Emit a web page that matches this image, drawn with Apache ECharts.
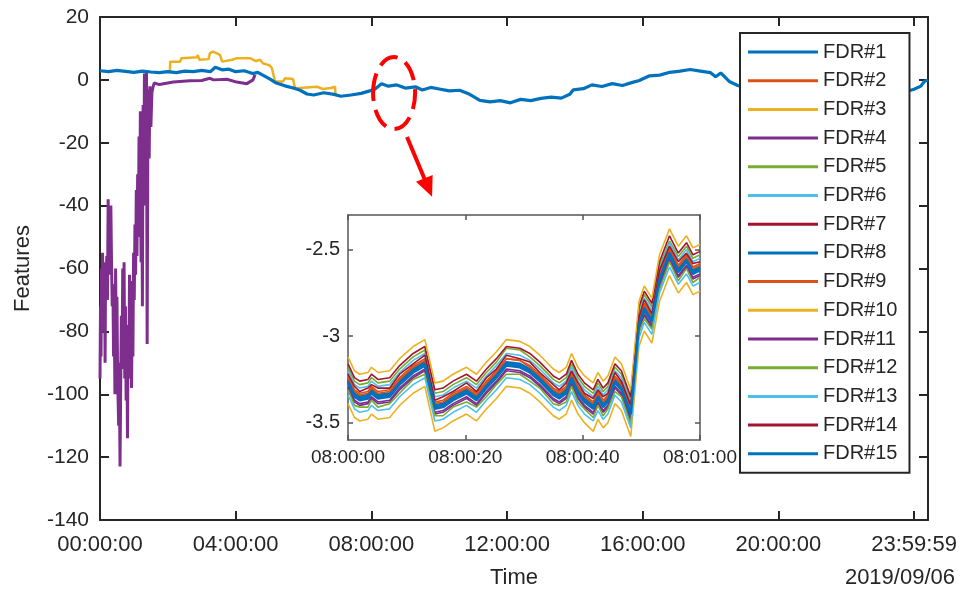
<!DOCTYPE html>
<html>
<head>
<meta charset="utf-8">
<script src="https://cdn.jsdelivr.net/npm/echarts@6/dist/echarts.min.js"></script>
<style>
html, body { margin: 0; padding: 0; background: #fff; }
#main { width: 960px; height: 592px; }
</style>
</head>
<body>
<div id="main"></div>
<script>
// series names and matlab default palette
var names = ['FDR#1', 'FDR#2', 'FDR#3', 'FDR#4', 'FDR#5', 'FDR#6', 'FDR#7', 'FDR#8',
  'FDR#9', 'FDR#10', 'FDR#11', 'FDR#12', 'FDR#13', 'FDR#14', 'FDR#15'];
var colors = ['#0072BD', '#D95319', '#EDB120', '#7E2F8E', '#77AC30', '#4DBEEE', '#A2142F'];

// whole day, x in hours since 00:00:00
var dayTicks = [0, 4, 8, 12, 16, 20, 24];
var fdr1Day = [[0, 2.9], [0.25, 2.6], [0.5, 3.0], [0.75, 2.7], [1.0, 2.4], [1.25, 2.8], [1.5, 2.5], [1.75, 2.3],
  [2.0, 2.6], [2.25, 2.3], [2.5, 2.8], [2.75, 2.6], [3.0, 3.0], [3.25, 2.6], [3.4, 4.0], [3.6, 3.2], [3.8, 3.4],
  [4.0, 2.6], [4.25, 2.9], [4.5, 2.0], [4.65, 2.4], [4.8, 1.5], [5.0, 0.3], [5.2, -1.0], [5.45, -1.9], [5.7, -2.6],
  [5.9, -3.3], [6.1, -4.5], [6.3, -4.8], [6.6, -4.1], [6.9, -4.6], [7.1, -5.2], [7.4, -4.8], [7.7, -4.3],
  [7.95, -3.5], [8.1, -3.0], [8.3, -1.2], [8.5, -2.0], [8.75, -1.6], [9.0, -2.6], [9.3, -2.2], [9.5, -3.2],
  [9.75, -2.4], [10.0, -2.9], [10.3, -3.5], [10.6, -3.3], [10.9, -4.6], [11.2, -6.5], [11.5, -7.0], [11.8, -6.6],
  [12.1, -7.3], [12.4, -6.2], [12.7, -6.6], [13.0, -5.9], [13.3, -5.5], [13.6, -5.8], [13.85, -4.6], [13.95, -3.2],
  [14.25, -2.8], [14.5, -1.6], [14.8, -2.1], [15.1, -1.2], [15.4, -1.8], [15.7, -0.8], [15.9, -0.2], [16.2, 1.3],
  [16.5, 1.5], [16.8, 2.4], [17.1, 2.8], [17.4, 3.3], [17.7, 2.8], [18.0, 2.3], [18.15, 1.0], [18.3, 2.2],
  [18.55, -0.5], [18.8, -1.8], [19.2, -2.8], [19.7, -3.5], [20.3, -4.2], [20.9, -3.8], [21.5, -4.5], [22.1, -3.9],
  [22.7, -4.3], [23.3, -3.6], [23.9, -3.3], [24.0, -3.0], [24.2, -2.0], [24.3, -0.5], [24.41, 0]];
var fdr3Day = [[2.06, 2.5], [2.07, 5.8], [2.36, 5.8], [2.4, 6.9], [2.86, 7.2], [2.88, 7.9], [2.93, 6.4], [3.2, 6.6],
  [3.24, 8.5], [3.33, 9.0], [3.45, 8.4], [3.54, 7.9], [3.6, 5.8], [3.9, 6.4], [4.04, 6.9], [4.42, 6.9], [4.6, 6.0],
  [4.72, 6.4], [4.8, 5.3], [5.0, 4.6], [5.07, 3.7], [5.16, -0.5], [5.4, -0.5], [5.45, 0.5], [5.69, 0.3], [5.75, -2.7],
  [6.1, -2.4], [6.4, -2.2], [6.57, -2.9], [6.8, -2.6], [6.93, -2.2], [6.94, -4.4]];
var fdr4Day = [[0, -95], [0.015, -72], [0.03, -88], [0.045, -60], [0.06, -80], [0.075, -55], [0.09, -66],
  [0.105, -58], [0.12, -78], [0.135, -62], [0.15, -90], [0.165, -60], [0.18, -64], [0.2, -56], [0.22, -70],
  [0.24, -38], [0.26, -55], [0.28, -42], [0.3, -62], [0.32, -40], [0.34, -58], [0.36, -72], [0.38, -65],
  [0.4, -88], [0.42, -75], [0.44, -100], [0.46, -60], [0.48, -84], [0.5, -69], [0.52, -95], [0.55, -110],
  [0.57, -90], [0.59, -123], [0.61, -98], [0.63, -75], [0.65, -92], [0.67, -60], [0.69, -80], [0.71, -58],
  [0.73, -95], [0.75, -72], [0.77, -102], [0.79, -80], [0.81, -114], [0.83, -78], [0.85, -95], [0.87, -62],
  [0.89, -85], [0.91, -64], [0.93, -98], [0.95, -72], [0.97, -88], [0.99, -55], [1.01, -70], [1.03, -46],
  [1.05, -62], [1.07, -35], [1.09, -56], [1.11, -30], [1.13, -50], [1.15, -18], [1.17, -45], [1.19, -10],
  [1.21, -58], [1.23, -25], [1.25, -72], [1.27, -8], [1.29, -40], [1.31, 2], [1.33, -30], [1.35, -5], [1.37, 3],
  [1.39, -84], [1.41, -20], [1.43, -3], [1.45, -25], [1.47, -2], [1.5, -15], [1.53, -4], [1.57, -2],
  [1.6, -1.0], [1.75, -1.5], [2.16, -0.7], [2.65, -0.3], [3.0, -0.2], [3.24, 0.5], [3.35, 0.0], [3.74, 0.2],
  [4.03, -0.7], [4.33, -1.2], [4.51, 0.0], [4.56, 0.0], [4.57, 1.6]];

// zoom 08:00:00 - 08:01:00, x in seconds
var zoomSec = [0, 1.1, 2, 3.4, 4, 5.1, 7.1, 8.8, 11.1, 13.1, 14.8, 16.2, 17.9, 20.2, 21.9, 23.6, 25.3, 27, 29.3, 31,
  32.7, 35, 36, 37.2, 38.1, 39.2, 40.3, 41.8, 42.6, 43.5, 44.3, 45.5, 46.6, 48.2, 49.6, 50.5, 51.8, 53.1, 54.8,
  56.3, 57.7, 58.8, 60];
var zoomVals = [
  [-3.25,-3.33,-3.35,-3.34,-3.31,-3.34,-3.33,-3.26,-3.19,-3.15,-3.40,-3.39,-3.35,-3.31,-3.35,-3.28,-3.22,-3.15,-3.16,-3.19,-3.24,-3.32,-3.34,-3.31,-3.23,-3.31,-3.36,-3.40,-3.34,-3.39,-3.36,-3.25,-3.29,-3.44,-2.92,-2.83,-2.90,-2.66,-2.51,-2.61,-2.55,-2.62,-2.60],
  [-3.24,-3.32,-3.34,-3.33,-3.30,-3.33,-3.32,-3.25,-3.18,-3.14,-3.39,-3.38,-3.34,-3.30,-3.34,-3.27,-3.21,-3.13,-3.14,-3.18,-3.23,-3.31,-3.33,-3.30,-3.22,-3.30,-3.35,-3.39,-3.33,-3.38,-3.35,-3.24,-3.28,-3.43,-2.91,-2.82,-2.89,-2.65,-2.50,-2.60,-2.54,-2.61,-2.59],
  [-3.39,-3.47,-3.49,-3.48,-3.45,-3.48,-3.47,-3.40,-3.33,-3.29,-3.55,-3.53,-3.49,-3.45,-3.49,-3.42,-3.36,-3.29,-3.30,-3.33,-3.38,-3.46,-3.48,-3.45,-3.37,-3.45,-3.50,-3.55,-3.48,-3.53,-3.50,-3.39,-3.43,-3.58,-3.06,-2.97,-3.04,-2.80,-2.65,-2.75,-2.69,-2.76,-2.74],
  [-3.29,-3.37,-3.39,-3.38,-3.35,-3.38,-3.37,-3.30,-3.23,-3.19,-3.44,-3.43,-3.39,-3.35,-3.39,-3.32,-3.26,-3.19,-3.20,-3.23,-3.28,-3.36,-3.38,-3.35,-3.27,-3.35,-3.40,-3.44,-3.38,-3.43,-3.40,-3.29,-3.33,-3.48,-2.96,-2.87,-2.94,-2.70,-2.55,-2.65,-2.59,-2.66,-2.64],
  [-3.18,-3.26,-3.28,-3.27,-3.24,-3.27,-3.26,-3.19,-3.12,-3.08,-3.33,-3.32,-3.28,-3.24,-3.28,-3.21,-3.15,-3.07,-3.08,-3.12,-3.17,-3.25,-3.27,-3.24,-3.16,-3.24,-3.29,-3.33,-3.27,-3.32,-3.29,-3.18,-3.22,-3.37,-2.85,-2.76,-2.83,-2.59,-2.45,-2.54,-2.48,-2.55,-2.53],
  [-3.20,-3.28,-3.30,-3.29,-3.26,-3.29,-3.28,-3.21,-3.14,-3.10,-3.35,-3.34,-3.30,-3.26,-3.30,-3.23,-3.17,-3.10,-3.11,-3.14,-3.19,-3.27,-3.29,-3.26,-3.18,-3.26,-3.31,-3.35,-3.29,-3.34,-3.31,-3.20,-3.24,-3.39,-2.87,-2.78,-2.85,-2.61,-2.46,-2.56,-2.50,-2.57,-2.55],
  [-3.16,-3.24,-3.26,-3.25,-3.22,-3.25,-3.24,-3.17,-3.10,-3.06,-3.31,-3.30,-3.26,-3.22,-3.26,-3.19,-3.13,-3.06,-3.07,-3.10,-3.15,-3.23,-3.25,-3.22,-3.14,-3.22,-3.27,-3.31,-3.25,-3.30,-3.27,-3.16,-3.20,-3.35,-2.83,-2.74,-2.81,-2.57,-2.42,-2.52,-2.46,-2.53,-2.51],
  [-3.27,-3.35,-3.37,-3.36,-3.33,-3.36,-3.35,-3.28,-3.21,-3.17,-3.42,-3.41,-3.37,-3.33,-3.37,-3.30,-3.24,-3.17,-3.18,-3.21,-3.26,-3.34,-3.36,-3.33,-3.25,-3.33,-3.38,-3.42,-3.36,-3.41,-3.38,-3.27,-3.31,-3.46,-2.95,-2.85,-2.92,-2.68,-2.53,-2.63,-2.57,-2.64,-2.62],
  [-3.23,-3.31,-3.33,-3.32,-3.29,-3.32,-3.31,-3.24,-3.17,-3.13,-3.38,-3.37,-3.33,-3.29,-3.33,-3.26,-3.20,-3.13,-3.14,-3.17,-3.22,-3.30,-3.32,-3.29,-3.21,-3.29,-3.34,-3.38,-3.32,-3.37,-3.34,-3.23,-3.27,-3.42,-2.90,-2.81,-2.88,-2.64,-2.49,-2.59,-2.53,-2.60,-2.58],
  [-3.12,-3.20,-3.22,-3.21,-3.18,-3.21,-3.20,-3.13,-3.06,-3.02,-3.27,-3.26,-3.22,-3.18,-3.22,-3.15,-3.09,-3.02,-3.03,-3.06,-3.11,-3.19,-3.21,-3.18,-3.10,-3.18,-3.23,-3.27,-3.21,-3.26,-3.23,-3.12,-3.16,-3.31,-2.80,-2.71,-2.78,-2.53,-2.38,-2.48,-2.42,-2.49,-2.47],
  [-3.30,-3.38,-3.40,-3.39,-3.36,-3.39,-3.38,-3.31,-3.24,-3.20,-3.45,-3.44,-3.40,-3.36,-3.40,-3.33,-3.27,-3.20,-3.21,-3.24,-3.29,-3.37,-3.39,-3.36,-3.28,-3.36,-3.41,-3.45,-3.39,-3.44,-3.41,-3.30,-3.34,-3.49,-2.97,-2.88,-2.95,-2.71,-2.56,-2.66,-2.60,-2.67,-2.65],
  [-3.31,-3.40,-3.41,-3.41,-3.37,-3.41,-3.39,-3.33,-3.25,-3.22,-3.46,-3.46,-3.41,-3.38,-3.41,-3.35,-3.28,-3.22,-3.22,-3.26,-3.30,-3.39,-3.40,-3.38,-3.29,-3.38,-3.42,-3.47,-3.40,-3.46,-3.42,-3.32,-3.35,-3.51,-2.98,-2.90,-2.96,-2.73,-2.57,-2.68,-2.61,-2.69,-2.66],
  [-3.34,-3.42,-3.44,-3.43,-3.40,-3.43,-3.42,-3.35,-3.28,-3.24,-3.49,-3.48,-3.44,-3.40,-3.44,-3.37,-3.31,-3.24,-3.25,-3.28,-3.33,-3.41,-3.43,-3.40,-3.32,-3.40,-3.45,-3.49,-3.43,-3.48,-3.45,-3.34,-3.38,-3.53,-3.01,-2.92,-2.99,-2.75,-2.60,-2.70,-2.64,-2.71,-2.69],
  [-3.22,-3.29,-3.32,-3.30,-3.28,-3.30,-3.30,-3.22,-3.16,-3.11,-3.37,-3.35,-3.32,-3.27,-3.32,-3.24,-3.19,-3.11,-3.13,-3.15,-3.21,-3.28,-3.31,-3.27,-3.20,-3.27,-3.33,-3.36,-3.31,-3.35,-3.33,-3.21,-3.26,-3.40,-2.89,-2.79,-2.87,-2.62,-2.48,-2.57,-2.52,-2.58,-2.57],
  [-3.26,-3.34,-3.36,-3.35,-3.32,-3.35,-3.34,-3.27,-3.20,-3.16,-3.41,-3.40,-3.36,-3.32,-3.36,-3.29,-3.23,-3.16,-3.17,-3.20,-3.25,-3.33,-3.35,-3.32,-3.24,-3.32,-3.37,-3.41,-3.35,-3.40,-3.37,-3.26,-3.30,-3.45,-2.93,-2.84,-2.91,-2.67,-2.52,-2.62,-2.56,-2.63,-2.61]
];

var ink = '#262626';
var font = '"Liberation Sans", Arial, sans-serif';

function pad2(n) { return n < 10 ? '0' + n : '' + n; }

var myChart = echarts.init(document.getElementById('main'));

function frameAxis(grid, pos, min, max, opt) {
  var a = {
    gridIndex: grid, type: 'value', position: pos, min: min, max: max,
    axisLine: { onZero: false, lineStyle: { color: opt.color, width: opt.width } },
    axisTick: { inside: true, length: opt.tick, lineStyle: { color: opt.color, width: opt.width } },
    axisLabel: { show: false },
    splitLine: { show: false }
  };
  if (opt.interval) a.interval = opt.interval;
  if (opt.ticks) a.axisTick.customValues = opt.ticks;
  return a;
}

var mainX = frameAxis(0, 'bottom', 0, 24.41, { color: ink, width: 2, tick: 9, ticks: dayTicks });
mainX.axisLabel = {
  show: true, customValues: dayTicks, fontSize: 22, color: ink, margin: 14,
  formatter: function (h) { return h === 24 ? '23:59:59' : pad2(h) + ':00:00'; }
};
mainX.name = 'Time';
mainX.nameLocation = 'middle';
mainX.nameGap = 47;
mainX.nameTextStyle = { fontSize: 22, color: ink };
var mainXTop = frameAxis(0, 'top', 0, 24.41, { color: ink, width: 2, tick: 9, ticks: dayTicks });

var mainY = frameAxis(0, 'left', -140, 20, { color: ink, width: 2, tick: 9, interval: 20 });
mainY.axisLabel = { show: true, fontSize: 21, color: ink, margin: 11 };
mainY.name = 'Features';
mainY.nameLocation = 'middle';
mainY.nameGap = 66;
mainY.nameTextStyle = { fontSize: 22, color: ink };
var mainYRight = frameAxis(0, 'right', -140, 20, { color: ink, width: 2, tick: 9, interval: 20 });

var zoomTicksY = [-3.5, -3, -2.5];
var zoomX = frameAxis(1, 'bottom', 0, 60, { color: '#555', width: 1.5, tick: 5, interval: 20 });
zoomX.axisLabel = {
  show: true, fontSize: 19, color: ink, margin: 8,
  formatter: function (s) { return '08:' + pad2(Math.floor(s / 60)) + ':' + pad2(s % 60); }
};
var zoomXTop = frameAxis(1, 'top', 0, 60, { color: '#555', width: 1.5, tick: 5, interval: 20 });
var zoomY = frameAxis(1, 'left', -3.6, -2.3, { color: '#555', width: 1.5, tick: 5, ticks: zoomTicksY });
zoomY.axisLabel = { show: true, customValues: zoomTicksY, fontSize: 20, color: ink, margin: 8 };
var zoomYRight = frameAxis(1, 'right', -3.6, -2.3, { color: '#555', width: 1.5, tick: 5, ticks: zoomTicksY });

var series = [
  { name: 'FDR#3', type: 'line', xAxisIndex: 0, yAxisIndex: 0, data: fdr3Day, symbol: 'none',
    color: colors[2], lineStyle: { width: 2.5, color: colors[2] } },
  { name: 'FDR#4', type: 'line', xAxisIndex: 0, yAxisIndex: 0, data: fdr4Day, symbol: 'none',
    color: colors[3], lineStyle: { width: 3, color: colors[3] } },
  { name: 'FDR#1', type: 'line', xAxisIndex: 0, yAxisIndex: 0, data: fdr1Day, symbol: 'none',
    color: colors[0], lineStyle: { width: 3.2, color: colors[0] } }
];
for (var i = 0; i < names.length; i++) {
  var c = colors[i % 7];
  var pts = [];
  for (var k = 0; k < zoomSec.length; k++) pts.push([zoomSec[k], zoomVals[i][k]]);
  series.push({
    name: names[i], type: 'line', xAxisIndex: 2, yAxisIndex: 2, data: pts, symbol: 'none',
    color: c, lineStyle: { width: c === colors[0] ? 2.5 : 1.6, color: c }
  });
}

var option = {
  animation: false,
  textStyle: { fontFamily: font },
  grid: [
    { left: 100, top: 17, width: 828, height: 503, outerBoundsMode: 'none' },
    { left: 348, top: 215, width: 352, height: 225, outerBoundsMode: 'none',
      show: true, backgroundColor: '#fff', borderWidth: 0 }
  ],
  xAxis: [mainX, mainXTop, zoomX, zoomXTop],
  yAxis: [mainY, mainYRight, zoomY, zoomYRight],
  legend: {
    data: names, orient: 'vertical', left: 740, top: 33, padding: [9, 12, 9, 8],
    itemWidth: 70, itemHeight: 3, itemGap: 8.7, icon: 'rect', selectedMode: false,
    textStyle: { fontSize: 20, color: ink, lineHeight: 20 },
    borderColor: ink, borderWidth: 2, backgroundColor: '#fff', borderRadius: 0, z: 10
  },
  series: series
};
myChart.setOption(option);

// red dashed ring around 08:00 and arrow to the zoom panel
var ring = myChart.convertToPixel({ xAxisIndex: 0, yAxisIndex: 0 }, [8.67, -4.2]);
var from = myChart.convertToPixel({ xAxisIndex: 0, yAxisIndex: 0 }, [9.05, -18.2]);
var tip = myChart.convertToPixel({ xAxisIndex: 0, yAxisIndex: 0 }, [9.79, -37.2]);
var dx = tip[0] - from[0], dy = tip[1] - from[1];
var len = Math.sqrt(dx * dx + dy * dy);
var ux = dx / len, uy = dy / len;
var bx = tip[0] - 20 * ux, by = tip[1] - 20 * uy;

myChart.setOption({
  graphic: [
    { type: 'ellipse', shape: { cx: ring[0], cy: ring[1], rx: 21, ry: 36 }, z: 20,
      style: { fill: null, stroke: '#f00', lineWidth: 4, lineDash: [20, 9] } },
    { type: 'line', shape: { x1: from[0], y1: from[1], x2: bx + 2 * ux, y2: by + 2 * uy }, z: 20,
      style: { stroke: '#f00', lineWidth: 4 } },
    { type: 'polygon', z: 20,
      shape: { points: [[tip[0], tip[1]], [bx - 9 * uy, by + 9 * ux], [bx + 9 * uy, by - 9 * ux]] },
      style: { fill: '#f00' } },
    { type: 'text', right: 5, top: 567, z: 20,
      style: { text: '2019/09/06', fontSize: 22, fill: ink, fontFamily: font } }
  ]
});
</script>
</body>
</html>
